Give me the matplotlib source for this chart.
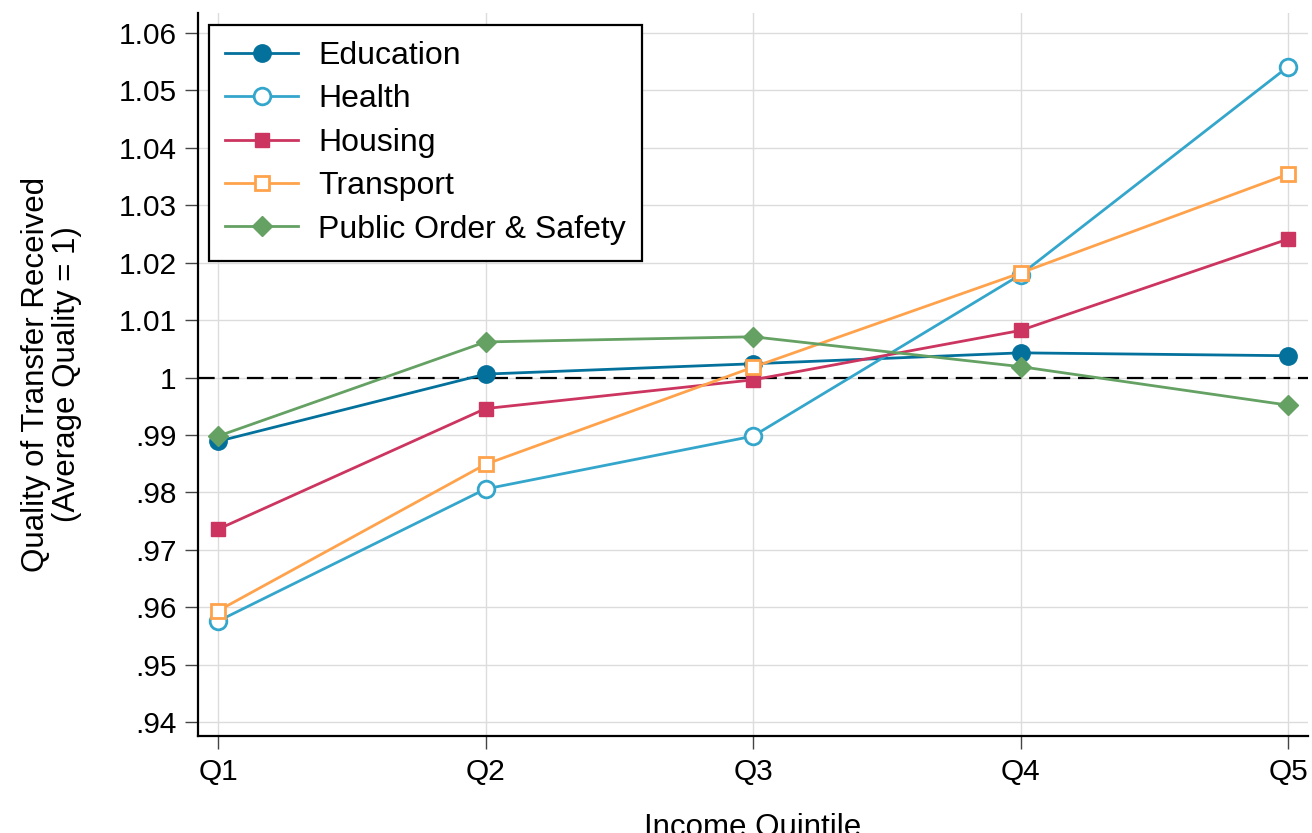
import numpy as np
import matplotlib.pyplot as plt

# --- Data ---
quintiles = ['Q1', 'Q2', 'Q3', 'Q4', 'Q5']
education = [0.9889, 1.0006, 1.0024, 1.0043, 1.0038]
health = [0.9576, 0.9806, 0.9898, 1.0179, 1.0541]
housing = [0.9736, 0.9946, 0.9996, 1.0082, 1.0241]
transport = [0.9594, 0.9849, 1.0018, 1.0182, 1.0354]
public_order = [0.9898, 1.0062, 1.0071, 1.0019, 0.9952]
y_ticks = [0.94, 0.95, 0.96, 0.97, 0.98, 0.99, 1.00, 1.01, 1.02, 1.03, 1.04, 1.05, 1.06]
y_tick_labels = ['.94', '.95', '.96', '.97', '.98', '.99', '1', '1.01', '1.02', '1.03', '1.04', '1.05', '1.06']

plt.rcParams['font.family'] = ['Liberation Sans', 'DejaVu Sans']

fig = plt.figure(figsize=(13.12, 8.33), dpi=100)
ax = fig.add_axes([0.1509, 0.1164, 0.8461, 0.8683])

x = np.arange(1, len(quintiles) + 1)
lw = 2.0

ax.plot(x, education, color='#03719c', lw=lw, marker='o', ms=12.5, label='Education', zorder=5)
ax.plot(x, health, color='#34a6cc', lw=lw, marker='o', ms=12, mfc='white', mew=2,
        label='Health', zorder=5)
ax.plot(x, housing, color='#cc3560', lw=lw, marker='s', ms=10, label='Housing', zorder=5)
ax.plot(x, transport, color='#ffa24c', lw=lw, marker='s', ms=10, mfc='white', mew=2,
        label='Transport', zorder=5)
ax.plot(x, public_order, color='#64a163', lw=lw, marker='D', ms=10, label='Public Order & Safety',
        zorder=5)

# reference line at average quality
ax.axhline(1.0, color='black', lw=1.6, ls=(0, (7.5, 3.5)), zorder=3)

ax.set_xlim(0.925, 5.075)
ax.set_ylim(0.9376, 1.0635)
ax.set_xticks(x)
ax.set_xticklabels(quintiles)
ax.set_yticks(y_ticks)
ax.set_yticklabels(y_tick_labels)

ax.grid(True, color='#dcdcdc', lw=1.0, zorder=0)
ax.set_axisbelow(True)
for side in ['top', 'right']:
    ax.spines[side].set_visible(False)
for side in ['left', 'bottom']:
    ax.spines[side].set_linewidth(1.6)
    ax.spines[side].set_color('black')

ax.tick_params(axis='both', labelsize=21.5, length=9.5, width=1.0, color='#444444', pad=6)
ax.set_xlabel('Income Quintile', fontsize=22.5, labelpad=20)
ax.set_ylabel('Quality of Transfer Received\n(Average Quality = 1)', fontsize=22.5,
              labelpad=26, linespacing=1.05)

leg = ax.legend(loc='upper left', bbox_to_anchor=(0.0099, 0.983), fontsize=23, frameon=True,
                fancybox=False, edgecolor='black', handlelength=2.3, borderpad=0.5,
                labelspacing=0.42, handletextpad=0.62, borderaxespad=0, framealpha=1)
leg.get_frame().set_linewidth(1.6)

fig.savefig('out.png', dpi=100)
